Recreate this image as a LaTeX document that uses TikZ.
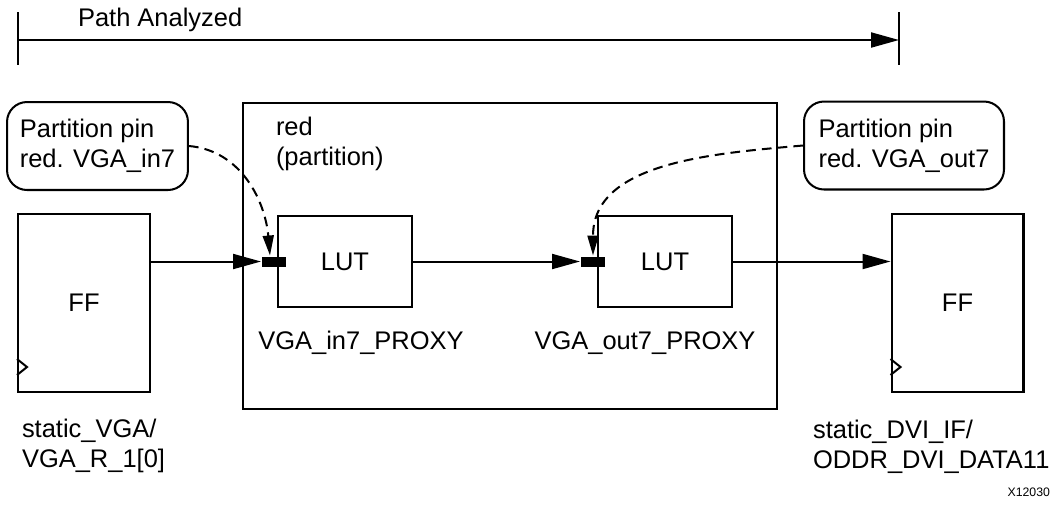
\documentclass[tikz,border=0pt]{standalone}
\usepackage{fontspec}
\setmainfont{Liberation Sans}
\usetikzlibrary{arrows.meta}

\begin{document}
\begin{tikzpicture}[x=0.02cm,y=-0.02cm,line width=1.15pt,font=\fontsize{14.5}{17}\selectfont,
  ff node/.style={rectangle,draw,minimum width=2.64cm,minimum height=3.56cm,inner sep=0pt},
  lut node/.style={rectangle,draw,minimum width=2.68cm,minimum height=1.82cm,inner sep=0pt},
  pin node/.style={rectangle,fill=black,minimum width=0.48cm,minimum height=0.2cm,inner sep=0pt},
  note node/.style={rectangle,draw,rounded corners=0.4cm,align=left,minimum height=1.76cm,inner sep=0pt},
  text node/.style={anchor=west,align=left,inner sep=0pt},
  sig/.style={-{Triangle[length=0.56cm,width=0.3cm]}},
  hint/.style={dash pattern=on 5.5pt off 3.5pt,-{Triangle[length=0.4cm,width=0.22cm]}}]
                \useasboundingbox (0,0) rectangle (1055,512);
                \coordinate (pathstart) at (18,40);
                \coordinate (pathend) at (899,40);
                \draw [line width=1.4pt] (18,12) -- (18,65);
                \draw [line width=1.4pt] (899,12) -- (899,65);
                \draw [sig] (pathstart) -- (pathend);
                \node[text node] at (77,20) (pathlabel) {Path Analyzed};
                \node[rectangle,draw,minimum width=10.68cm,minimum height=6.12cm,inner sep=0pt] at (510,256) (partition) {};
                \node[text node] at (275,144) (partlabel) {red\\(partition)};
                \node[ff node] at (84,303) (ffin) {FF};
                \node[ff node] at (957.5,303) (ffout) {FF};
                \draw (ffin.south west) ++(0,-34) -- ++(10,8) -- ++(-10,8);
                \draw (ffout.south west) ++(0,-34) -- ++(10,8) -- ++(-10,8);
                \node[lut node] at (345,261.5) (lutin) {LUT};
                \node[lut node] at (665,261.5) (lutout) {LUT};
                \node[pin node] at (274,261.5) (pinin) {};
                \node[pin node] at (593,261.5) (pinout) {};
                \node at (361,343) (proxyin) {VGA\_in7\_PROXY};
                \node at (645,343) (proxyout) {VGA\_out7\_PROXY};
                \node[note node,minimum width=3.62cm] at (97.5,146) (notein) {Partition pin\\red. VGA\_in7};
                \node[note node,minimum width=4cm] at (904,145.5) (noteout) {Partition pin\\red. VGA\_out7};
                \node[text node] at (21,446) (ffinlabel) {static\_VGA/\\VGA\_R\_1[0]};
                \node[text node] at (812,447) (ffoutlabel) {static\_DVI\_IF/\\ODDR\_DVI\_DATA11};
                \node[anchor=east,inner sep=0pt,font=\fontsize{7}{8}\selectfont] at (1051,492) (figid) {X12030};
                \draw [sig] (ffin.east |- pinin.west) -- (pinin.west);
                \draw [sig] (lutin.east) -- (pinout.west);
                \draw [sig] (lutout.east) -- (ffout.west |- lutout.east);
                \draw [hint] (notein.east) to[out=-5,in=95] ([xshift=-0.08cm]pinin.north);
                \draw [hint] (noteout.west) to[out=185,in=90] (pinout.north);
            \end{tikzpicture}
\end{document}
